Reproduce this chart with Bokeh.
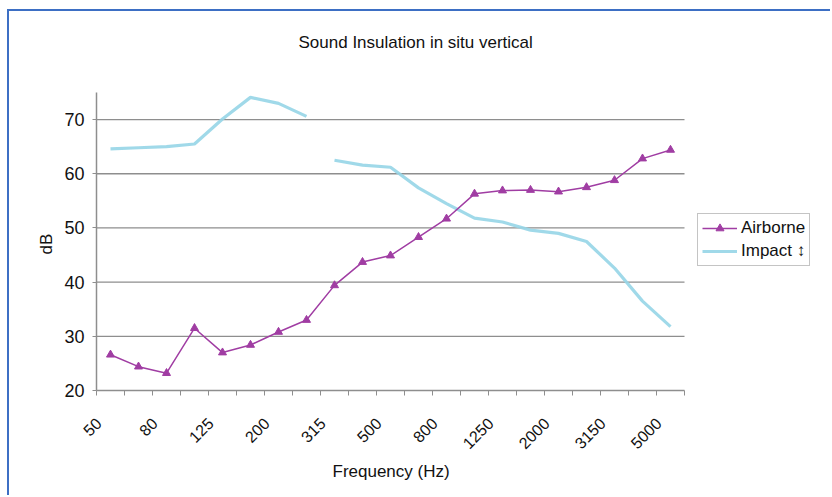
import math
from bokeh.plotting import figure
from bokeh.models import (FixedTicker, Range1d, Legend, LegendItem, ColumnDataSource,
                          Title, Label)
from bokeh.embed import file_html
from bokeh.resources import INLINE

# ---- data ----
freqs = ["50", "63", "80", "100", "125", "160", "200", "250", "315", "400", "500",
         "630", "800", "1000", "1250", "1600", "2000", "2500", "3150", "4000", "5000"]
airborne = [26.6, 24.4, 23.2, 31.5, 27.0, 28.4, 30.8, 33.0, 39.4, 43.7, 44.9,
            48.3, 51.7, 56.3, 56.9, 57.0, 56.7, 57.5, 58.8, 62.8, 64.4]
impact = [64.6, 64.8, 65.0, 65.5, 70.1, 74.1, 73.0, 70.6, 62.5, 61.6, 61.2,
          57.4, 54.5, 51.8, 51.1, 49.6, 49.0, 47.5, 42.6, 36.5, 31.8]
impact_gap_after = "250"   # no segment drawn between 250 and 315 Hz
shown_labels = ["50", "80", "125", "200", "315", "500", "800", "1250", "2000", "3150", "5000"]
y_ticks = [20, 30, 40, 50, 60, 70]
y_min, y_max = 20, 75

FONT = "Liberation Sans"
LEGEND_FONT = "Liberation Sans, DejaVu Sans"
PURPLE = "#A03DA3"
CYAN = "#96D5E7"
GRID = "#8E8E8E"
TXT = "#111111"

n = len(freqs)
xs = [i + 0.5 for i in range(n)]

# layout (pixels, canvas coordinates)
W, H = 823, 486
ML, MR, MT, MB = 87, 3, 12, 107
CAT_PX = 28.0
AXIS_TOP_PX = 81           # canvas y of the top of the value axis
frame_w = W - ML - MR
frame_bottom = H - MB
px_per_db = (frame_bottom - AXIS_TOP_PX) / (y_max - y_min)
x_end = frame_w / CAT_PX                          # room on the right for the legend
y_end = y_max + (AXIS_TOP_PX - MT) / px_per_db    # room on top for the title
LABEL_SHIFT = 0.43         # rotated labels end slightly left of the category centre

p = figure(width=W, height=H, output_backend="svg", toolbar_location=None,
           x_range=Range1d(0, x_end), y_range=Range1d(y_min, y_end),
           min_border_left=ML, min_border_right=MR, min_border_top=MT,
           min_border_bottom=MB, background_fill_color="white",
           border_fill_color="white", outline_line_color=None)
p.styles = {"margin-left": "7px", "margin-top": "9px",
            "border-left": "2px solid #3D6FC4", "border-top": "2px solid #3D6FC4"}

# chart title (inside the plotting area, above the value axis)
title_x = (289 - ML) / CAT_PX
title_y = y_min + (frame_bottom - 31) / px_per_db
p.add_layout(Label(x=title_x, y=title_y, text="Sound Insulation in situ vertical",
                   text_font=FONT, text_font_size="17px", text_color=TXT,
                   text_align="left", text_baseline="middle"))

# x axis
xa = p.xaxis[0]
xa.bounds = (0, n)
label_ticks = [xs[freqs.index(f)] - LABEL_SHIFT for f in shown_labels]
xa.ticker = FixedTicker(ticks=label_ticks, minor_ticks=list(range(n + 1)))
xa.major_label_overrides = {t: f for t, f in zip(label_ticks, shown_labels)}
xa.major_label_orientation = math.pi / 4
xa.major_tick_out = 0
xa.major_tick_in = 0
xa.minor_tick_out = 5
xa.minor_tick_in = 0
xa.minor_tick_line_color = GRID
xa.axis_line_color = GRID
xa.axis_line_width = 1.5
xa.major_label_standoff = 25
xa.major_label_text_font = FONT
xa.major_label_text_font_size = "16px"
xa.major_label_text_color = TXT

p.add_layout(Title(text="Frequency (Hz)", align="left", offset=236, standoff=5,
                   text_font=FONT, text_font_size="17px", text_font_style="normal",
                   text_color=TXT), "below")

# y axis
ya = p.yaxis[0]
ya.bounds = (y_min, y_max)
ya.ticker = FixedTicker(ticks=y_ticks, minor_ticks=[])
ya.major_tick_out = 4
ya.major_tick_in = 0
ya.major_tick_line_color = GRID
ya.axis_line_color = GRID
ya.axis_line_width = 1.5
ya.major_label_standoff = 8
ya.major_label_text_font = FONT
ya.major_label_text_font_size = "18px"
ya.major_label_text_color = TXT

p.add_layout(Title(text="dB", align="left", offset=frame_bottom - 243, standoff=12,
                   text_font=FONT, text_font_size="17px", text_font_style="normal",
                   text_color=TXT), "left")

p.xgrid.visible = False
p.ygrid.visible = False
p.segment(x0=[0] * len(y_ticks[1:]), x1=[n] * len(y_ticks[1:]),
          y0=y_ticks[1:], y1=y_ticks[1:], line_color=GRID, line_width=1.3)

# impact line (with gap)
g = freqs.index(impact_gap_after) + 1
imp1 = p.line(xs[:g], impact[:g], line_color=CYAN, line_width=3.2, line_alpha=0.9)
p.line(xs[g:], impact[g:], line_color=CYAN, line_width=3.2, line_alpha=0.9)

# airborne
src = ColumnDataSource(dict(x=xs, y=airborne))
air_l = p.line("x", "y", source=src, line_color=PURPLE, line_width=1.5)
air_m = p.scatter("x", "y", source=src, marker="triangle", size=8,
                  fill_color=PURPLE, line_color=PURPLE)

legend = Legend(items=[LegendItem(label="Airborne", renderers=[air_l, air_m]),
                       LegendItem(label="Impact \u2195\ufe0e", renderers=[imp1])],
                location=(601, 124), margin=0, padding=4, spacing=3,
                glyph_width=35, glyph_height=20, label_height=20,
                label_standoff=4,
                label_text_font=LEGEND_FONT, label_text_font_size="17px",
                label_text_color=TXT,
                border_line_color="#8A8A8A", border_line_width=1.2,
                background_fill_color="white")
p.add_layout(legend)

open("out.html", "w").write(file_html(p, INLINE))
